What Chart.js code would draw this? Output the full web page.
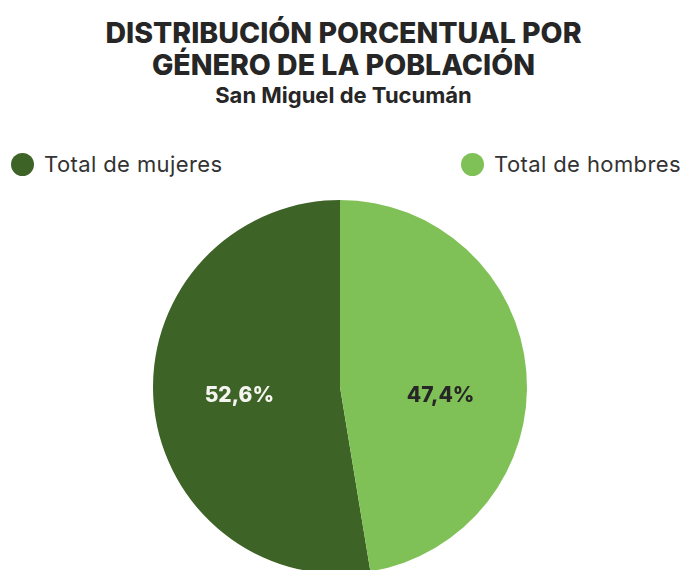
<!DOCTYPE html>
<html>
<head>
<meta charset="utf-8">
<script src="https://cdn.jsdelivr.net/npm/chart.js@4"></script>
<style>
  html, body { margin: 0; padding: 0; background: #fff; overflow: hidden; }
  body { width: 687px; height: 570px; position: relative; font-family: 'Inter', 'Noto Sans', sans-serif; color: #262626; }
  .title { position: absolute; left: 0; width: 687px; text-align: center; font-weight: 800; white-space: nowrap; line-height: 1; }
  .t1 { top: 19px; font-size: 28.5px; }
  .t2 { top: 51px; font-size: 28.5px; }
  .sub { top: 84px; font-size: 22px; font-weight: 700; }
  .legend-item { position: absolute; top: 151px; display: flex; align-items: center; font-size: 22px; letter-spacing: 0.4px; color: #333; }
  .legend-dot { width: 23px; height: 23px; border-radius: 50%; margin-right: 10px; }
  #pieWrap { position: absolute; left: 0; top: 200px; width: 687px; height: 374px; }
</style>
</head>
<body>
  <div class="title t1">DISTRIBUCIÓN PORCENTUAL POR</div>
  <div class="title t2">GÉNERO DE LA POBLACIÓN</div>
  <div class="title sub">San Miguel de Tucumán</div>
  <div id="legend"></div>
  <div id="pieWrap"><canvas id="pie"></canvas></div>
<script>
const categories = ['Total de mujeres', 'Total de hombres'];
const percentages = [52.6, 47.4];
const valueLabels = ['52,6%', '47,4%'];
const colors = ['#3e6326', '#80c157'];
const labelColors = ['#f4f4f0', '#262626'];

// legend: first item at left edge, second near right edge
const legendPos = [{ left: '11px' }, { left: '461px' }];
const legend = document.getElementById('legend');
categories.forEach((c, i) => {
  const item = document.createElement('div');
  item.className = 'legend-item';
  Object.assign(item.style, legendPos[i]);
  item.innerHTML = `<span class="legend-dot" style="background:${colors[i]}"></span><span>${c}</span>`;
  legend.appendChild(item);
});

const total = percentages.reduce((s, v) => s + v, 0);

// draw the percent text inside each slice
const sliceLabels = {
  id: 'sliceLabels',
  afterDatasetsDraw(chart) {
    const ctx = chart.ctx;
    const meta = chart.getDatasetMeta(0);
    ctx.save();
    ctx.font = '800 21px Inter, "Noto Sans", sans-serif';
    ctx.textAlign = 'center';
    ctx.textBaseline = 'middle';
    meta.data.forEach((arc, i) => {
      const mid = (arc.startAngle + arc.endAngle) / 2;
      const r = arc.outerRadius * 0.54;
      const x = arc.x + Math.cos(mid) * r;
      const y = arc.y + arc.outerRadius * 0.045;
      ctx.fillStyle = labelColors[i];
      ctx.fillText(valueLabels[i], x, y);
    });
    ctx.restore();
  }
};

new Chart(document.getElementById('pie'), {
  type: 'pie',
  data: {
    labels: categories,
    datasets: [{
      data: percentages,
      backgroundColor: colors,
      borderWidth: 0,
    }],
  },
  options: {
    responsive: true,
    maintainAspectRatio: false,
    animation: false,
    // first slice ends exactly at 12 o'clock so the second starts there
    rotation: -percentages[0] / total * 360,
    layout: { padding: { left: 0, right: 7, top: 0, bottom: 0 } },
    plugins: {
      legend: { display: false },
      tooltip: { enabled: false },
    },
  },
  plugins: [sliceLabels],
});
</script>
</body>
</html>
